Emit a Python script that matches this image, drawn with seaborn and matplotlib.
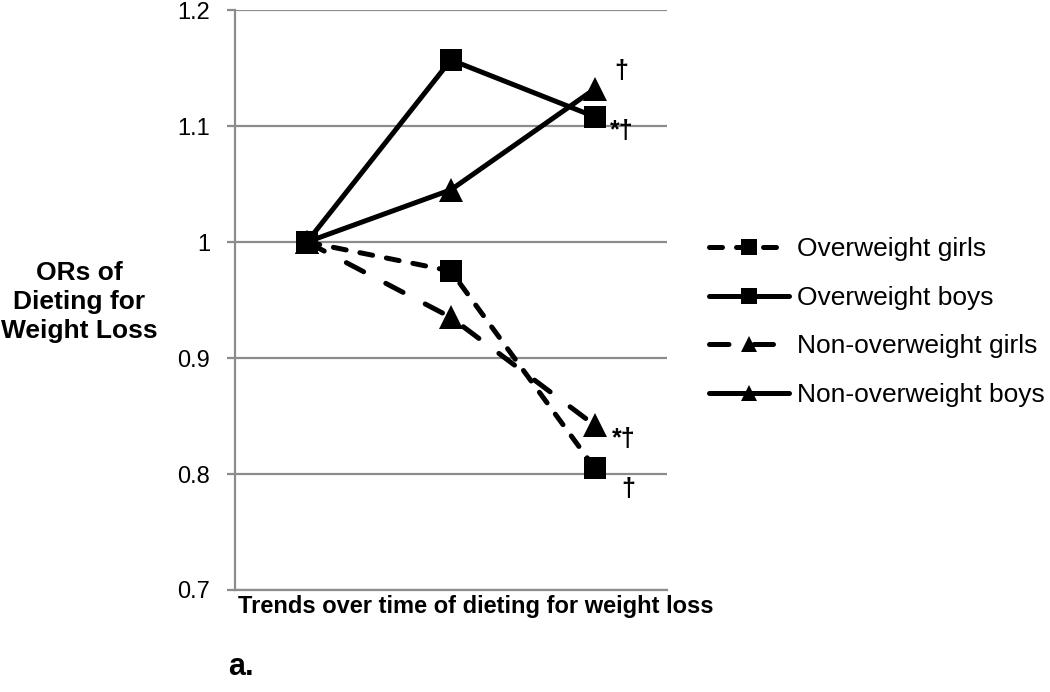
import pandas as pd
import numpy as np
import matplotlib
matplotlib.use('Agg')
import matplotlib.pyplot as plt
import seaborn as sns

# Data (three time points, OR relative to baseline)
periods = [1, 2, 3]
overweight_girls = [1.0, 0.975, 0.805]
overweight_boys = [1.0, 1.157, 1.108]
nonoverweight_girls = [1.0, 0.935, 0.842]
nonoverweight_boys = [1.0, 1.045, 1.132]
series_names = ['Overweight girls', 'Overweight boys',
                'Non-overweight girls', 'Non-overweight boys']
point_notes = ['\u2020', '*\u2020', '*\u2020', '\u2020']  # boys-NOW, boys-OW, girls-NOW, girls-OW
y_ticks = [0.7, 0.8, 0.9, 1.0, 1.1, 1.2]
y_tick_labels = ['0.7', '0.8', '0.9', '1', '1.1', '1.2']

sns.set_style('white')
plt.rcParams['font.family'] = ['Liberation Sans', 'DejaVu Sans']
plt.rcParams['text.color'] = 'black'
plt.rcParams['axes.labelcolor'] = 'black'
plt.rcParams['ytick.color'] = 'black'

df = pd.DataFrame({
    'period': periods * 4,
    'OR': overweight_girls + overweight_boys + nonoverweight_girls + nonoverweight_boys,
    'group': np.repeat(series_names, len(periods)),
})

styles = {
    'Overweight girls': dict(marker='s', dashes=(2.6, 2.8)),
    'Overweight boys': dict(marker='s', dashes=None),
    'Non-overweight girls': dict(marker='^', dashes=(3.9, 5.0)),
    'Non-overweight boys': dict(marker='^', dashes=None),
}

fig = plt.figure(figsize=(10.5, 6.92), dpi=100)
ax = fig.add_axes([0.2238, 0.1474, 0.635 - 0.2238, 0.9855 - 0.1474])

for name in series_names:
    sub = df[df['group'] == name]
    st = styles[name]
    ms = 16 if st['marker'] == 's' else 17
    sns.lineplot(data=sub, x='period', y='OR', ax=ax, color='black',
                 linewidth=3.6, marker=st['marker'], markersize=ms,
                 markeredgewidth=0, label=name, errorbar=None)
    l = ax.get_lines()[-1]
    if st['dashes'] is not None:
        l.set_dashes(st['dashes'])
        l.set_dash_capstyle('round')

ax.set_xlim(0.5, 3.5)
ax.set_ylim(0.7, 1.2)
ax.set_yticks(y_ticks)
ax.set_yticklabels(y_tick_labels, fontsize=17)
ax.set_xticks([])
ax.yaxis.grid(True, color='#8c8c8c', linewidth=1.6)
ax.set_axisbelow(True)
for s in ['top', 'right']:
    ax.spines[s].set_visible(False)
for s in ['left', 'bottom']:
    ax.spines[s].set_color('#8c8c8c')
    ax.spines[s].set_linewidth(1.6)
ax.tick_params(axis='y', length=6, width=1.6, color='#8c8c8c', labelcolor='black',
               pad=12, left=True)

ax.set_xlabel('Trends over time of dieting for weight loss', fontsize=17,
              fontweight='bold', labelpad=3)
ax.xaxis.set_label_coords(0.558, -0.008)
ax.xaxis.label.set_va('top')
ax.set_ylabel('ORs of\nDieting for\nWeight Loss', fontsize=19, fontweight='bold',
              rotation=0, ha='center', va='center', linespacing=1.25)
ax.yaxis.set_label_coords(-0.361, 0.497)

# significance marks next to the final points
last = periods[-1]
ax.annotate(point_notes[0], (last, nonoverweight_boys[-1]), xytext=(14, 8),
            textcoords='offset points', fontsize=18, fontweight='bold')
ax.annotate(point_notes[1], (last, overweight_boys[-1]), xytext=(11, -15),
            textcoords='offset points', fontsize=18, fontweight='bold')
ax.annotate(point_notes[2], (last, nonoverweight_girls[-1]), xytext=(12, -15),
            textcoords='offset points', fontsize=18, fontweight='bold')
ax.annotate(point_notes[3], (last, overweight_girls[-1]), xytext=(19, -20),
            textcoords='offset points', fontsize=18, fontweight='bold')

leg = ax.legend(loc='center left', bbox_to_anchor=(1.044, 0.462), frameon=False,
                fontsize=19, handlelength=3.0, handletextpad=0.3, labelspacing=0.93,
                markerscale=0.7)

fig.text(0.217, 0.025, 'a.', fontsize=22, fontweight='bold')

fig.savefig('out.png', dpi=100)
